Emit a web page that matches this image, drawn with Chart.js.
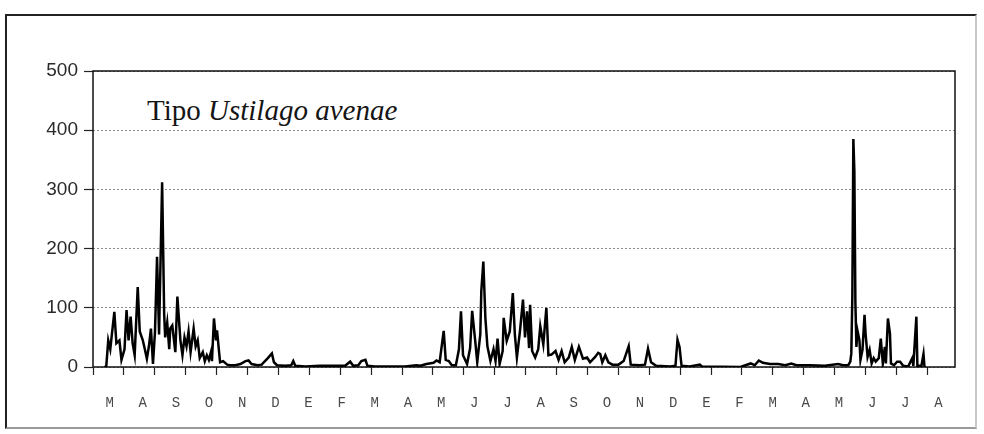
<!DOCTYPE html>
<html><head><meta charset="utf-8">
<script src="https://cdn.jsdelivr.net/npm/chart.js@4/dist/chart.umd.min.js"></script>
<style>
html,body{margin:0;padding:0;background:#fff;}
#wrap{position:relative;width:984px;height:434px;overflow:hidden;}
#frame{position:absolute;left:5px;top:14px;width:968px;height:411px;border:2px solid #222;border-bottom-color:#9a9a9a;border-right-color:#c8c8c8;}
#title{position:absolute;left:138px;top:93px;padding:0 12px 0 9px;background:#fff;font-family:'Liberation Serif','Times New Roman',serif;font-size:29px;line-height:34px;color:#151515;z-index:2;white-space:nowrap;}
canvas{position:absolute;left:0;top:0;z-index:1;}
</style></head>
<body>
<div id="wrap">
  <div id="frame"></div>
  <canvas id="c" width="984" height="434"></canvas>
  <div id="title">Tipo <i>Ustilago avenae</i></div>
</div>
<script>
// Month letters (Spanish initials) shown under the axis
const MONTH_LABELS = ['M','A','S','O','N','D','E','F','M','A','M','J','J','A','S','O','N','D','E','F','M','A','M','J','J','A'];
// Y axis ticks
const Y_TICKS = [0,100,200,300,400,500];
// Day of series (from first month tick) and spore counts
const DAYS = [11,13,15,17,21,23,26,28,31,33,35,37,39,41,44,46,49,51,53,55,57,59,61,63,65,68,70,71,73,75,76,78,81,83,86,88,90,92,94,96,99,101,103,105,108,110,112,114,116,117,119,121,122,125,128,132,135,
140,145,150,153,156,162,166,168,172,176,178,181,189,195,197,199,209,223,233,248,253,256,261,264,268,270,277,292,307,318,322,328,331,335,338,341,345,347,350,353,357,360,362,364,368,371,373,376,378,381,382,384,386,388,391,394,396,398,400,403,404,407,410,413,415,417,420,423,425,427,429,430,432,435,438,440,443,446,448,451,455,458,461,464,468,471,474,478,482,486,489,494,497,499,501,504,507,511,517,522,527,529,538,543,546,549,554,568,573,575,577,579,587,597,599,637,647,651,655,659,666,674,681,687,692,705,720,733,738,743,745,746,747,748,749,750,751,752,754,755,757,759,760,762,764,766,768,770,773,775,777,779,780,782,784,785,788,791,794,797,802,806,807,810,811,815,817,818];
const COUNTS = [0,0,45,30,93,40,45,12,30,96,45,85,40,20,135,60,45,30,14,35,65,5,60,186,55,312,90,50,75,30,65,70,25,119,45,20,50,35,60,25,65,35,45,15,25,10,20,12,25,10,82,45,62,8,10,4,3,
3,5,10,11,5,3,4,8,15,23,8,3,2,3,10,2,1,2,2,2,9,2,3,10,12,2,1,1,1,3,2,5,6,7,11,8,61,12,10,3,3,30,94,20,5,32,95,44,8,55,128,178,83,35,10,30,10,48,5,27,83,44,60,125,55,16,60,114,50,94,32,105,27,16,30,69,38,100,20,21,27,12,27,8,16,34,12,34,14,16,8,17,24,22,8,20,8,4,4,10,35,4,3,4,31,8,2,1,2,46,34,2,1,4,1,0,6,3,11,7,5,5,3,6,3,3,2,5,3,3,9,23,118,385,330,110,34,62,45,12,29,88,57,17,29,6,15,9,15,48,6,34,6,82,57,6,3,9,9,2,1,15,2,85,2,2,22,0];

const DAYS_PER_MONTH = 30.4;
const N_MONTH_TICKS = 28;

const framePlugin = {
  id: 'frame',
  beforeDatasetsDraw(chart) {
    const {ctx, chartArea: a} = chart;
    ctx.save();
    ctx.strokeStyle = '#111';
    ctx.lineWidth = 1.5;
    ctx.strokeRect(a.left, a.top, a.right - a.left, a.bottom - a.top);
    ctx.restore();
  }
};

new Chart(document.getElementById('c'), {
  type: 'line',
  data: {
    datasets: [{
      data: DAYS.map((d, i) => ({x: d, y: COUNTS[i]})),
      borderColor: '#000',
      borderWidth: 2.5,
      pointRadius: 0,
      tension: 0,
      borderJoinStyle: 'miter',
      xAxisID: 'x',
      yAxisID: 'y'
    }]
  },
  options: {
    responsive: false,
    animation: false,
    events: [],
    layout: {padding: {top: 71, right: 29, bottom: 23, left: 0}},
    plugins: {legend: {display: false}, tooltip: {enabled: false}},
    scales: {
      x: {
        type: 'linear',
        position: 'bottom',
        weight: 0,
        min: 0,
        max: 848,
        afterBuildTicks: s => { s.ticks = Array.from({length: N_MONTH_TICKS}, (_, k) => ({value: k * DAYS_PER_MONTH})); },
        afterFit: s => { s.height = 8; },
        ticks: {display: false},
        grid: {drawOnChartArea: false, drawTicks: true, tickLength: 8, tickColor: '#222', tickWidth: 1.2},
        border: {display: false}
      },
      xm: {
        type: 'category',
        position: 'bottom',
        weight: 1,
        labels: MONTH_LABELS,
        offset: true,
        afterFit: s => { s.height = 36; },
        ticks: {autoSkip: false, maxRotation: 0, padding: 20, color: '#4a4a4a', font: {family: "'Liberation Mono', 'DejaVu Sans Mono', monospace", size: 14}},
        grid: {display: false, drawTicks: false},
        border: {display: false}
      },
      y: {
        type: 'linear',
        min: 0,
        max: 500,
        afterBuildTicks: s => { s.ticks = Y_TICKS.map(v => ({value: v})); },
        afterFit: s => { s.width = 93; },
        ticks: {padding: 6, color: '#2a2a2a', font: {family: "'Liberation Sans', Arial, sans-serif", size: 19}},
        grid: {color: '#8a8a8a', lineWidth: 1, drawTicks: true, tickLength: 9, tickColor: '#222', tickWidth: 1.2},
        border: {display: false, dash: [2, 2]}
      }
    }
  },
  plugins: [framePlugin]
});
</script>
</body></html>
